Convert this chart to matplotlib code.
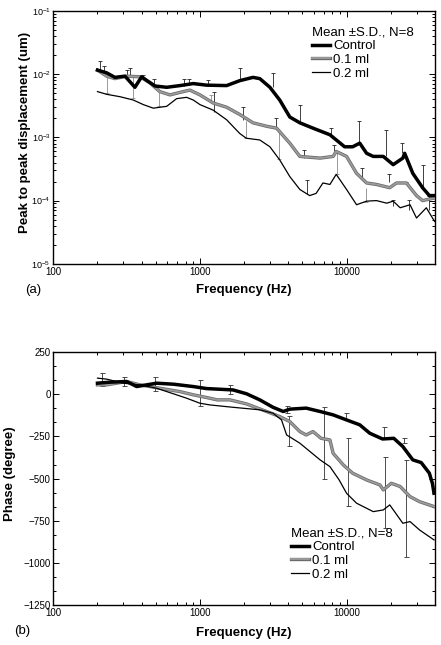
import matplotlib
matplotlib.use("Agg")
import matplotlib.pyplot as plt
import matplotlib.patheffects as pe
from matplotlib.ticker import LogLocator, AutoMinorLocator, MultipleLocator, NullFormatter
import numpy as np

plt.rcParams['font.family'] = ['Liberation Sans', 'DejaVu Sans']

# ---- (a) peak to peak displacement (um) ----
ctrl_f = [200, 231, 263, 308, 360, 400, 432, 494, 593, 731, 900, 1110, 1520, 1870, 2300, 2560,
          3000, 3500, 4100, 4800, 5900, 7700, 9700, 11000, 12300, 13700, 15200, 17800, 20800,
          24200, 24900, 28300, 33000, 36700, 39800]
ctrl_d = [0.0116, 0.0105, 0.0089, 0.0093, 0.0062, 0.0091, 0.0080, 0.0065, 0.0062, 0.0066, 0.0071,
          0.0067, 0.0066, 0.0079, 0.0089, 0.0085, 0.0062, 0.0039, 0.0021, 0.0017, 0.0014, 0.0011,
          0.00071, 0.00071, 0.00081, 0.00056, 0.00050, 0.00050, 0.00037, 0.00047, 0.00056,
          0.00027, 0.00016, 0.00012, 0.00012]

m01_f = [200, 231, 263, 316, 390, 455, 532, 625, 768, 854, 1000, 1230, 1520, 1870, 2300, 2850,
         3330, 4100, 4800, 6600, 8100, 8500, 10000, 11700, 13700, 16000, 19700, 21900, 25600,
         30000, 33000, 39800]
m01_d = [0.0116, 0.0093, 0.0085, 0.0093, 0.0091, 0.0073, 0.0053, 0.0047, 0.0053, 0.0056, 0.0047,
         0.0035, 0.0030, 0.0023, 0.0017, 0.0015, 0.0014, 0.00081, 0.00050, 0.00047, 0.00050,
         0.00060, 0.00050, 0.00027, 0.00019, 0.00018, 0.00016, 0.00019, 0.00019, 0.00012,
         0.00010, 0.00011]

m02_f = [200, 231, 285, 351, 411, 480, 593, 693, 810, 900, 1000, 1230, 1520, 1870, 2070, 2560,
         3000, 3500, 4100, 4800, 5600, 6200, 6900, 7700, 8500, 10000, 11700, 13700, 16000, 18800,
         20800, 23200, 27100, 30000, 35000, 39800]
m02_d = [0.0053, 0.0048, 0.0044, 0.0039, 0.0033, 0.0029, 0.0031, 0.0041, 0.0043, 0.0039, 0.0033,
         0.0027, 0.0019, 0.00115, 0.00097, 0.00091, 0.00071, 0.00044, 0.00024, 0.00015, 0.00012,
         0.00013, 0.00019, 0.00018, 0.00026, 0.00015, 0.000086, 0.000098, 0.00010, 0.000091,
         0.000098, 0.000077, 0.000086, 0.000053, 0.000077, 0.000047]

# error bars of (a): frequency, start (on curve), end (cap), colour
bar_a_f = [209, 220, 231, 318, 334, 349, 406, 483, 527, 774, 847, 1130, 1190, 1250, 1870, 1980,
           2070, 3130, 3320, 3480, 4790, 5120, 5400, 7780, 8200, 8650, 12200, 12800, 13500,
           18700, 19500, 20600, 24000, 25300, 26700, 33000, 36600]
bar_a_from = [0.0114, 0.0108, 0.0093, 0.0093, 0.0095, 0.0090, 0.0091, 0.0065, 0.0053, 0.0066,
              0.0069, 0.0067, 0.0035, 0.0025, 0.0079, 0.0019, 0.0018, 0.0062, 0.00146, 0.0012,
              0.0017, 0.00048, 0.000125, 0.0011, 0.00062, 0.00060, 0.00081, 0.00023, 0.00016,
              0.00050, 0.00020, 0.000081, 0.00056, 0.00018, 0.000072, 0.00016, 0.000072]
bar_a_to = [0.0161, 0.0134, 0.0051, 0.0117, 0.0124, 0.0042, 0.0097, 0.0085, 0.0031, 0.0085,
            0.0085, 0.0082, 0.0047, 0.0052, 0.0126, 0.0030, 0.00099, 0.0104, 0.00204, 0.00045,
            0.0033, 0.00064, 0.00021, 0.00139, 0.00075, 0.00026, 0.00179, 0.00033, 0.000095,
            0.00131, 0.00026, 0.000103, 0.00083, 0.00020, 0.000103, 0.00037, 0.000117]
bar_a_col = ['k', 'k', 'g', 'k', 'k', 'g', 'k', 'k', 'g', 'k', 'k', 'k', 'g', 'k', 'k', 'k',
             'g', 'k', 'k', 'g', 'k', 'k', 'k', 'k', 'k', 'g', 'k', 'k', 'g', 'k', 'k', 'k',
             'k', 'k', 'k', 'k', 'k']

# ---- (b) phase (degree) ----
ctrl_pf = [200, 243, 316, 370, 432, 506, 660, 900, 1110, 1680, 2080, 2560, 3150, 3700, 4100,
           5300, 6600, 8100, 10000, 12300, 14400, 17600, 21000, 24200, 28300, 32300, 36700,
           38500, 39500]
ctrl_p = [66, 72, 76, 46, 56, 66, 60, 46, 34, 26, 3, -33, -77, -102, -88, -82, -102, -122, -152,
          -181, -231, -265, -261, -310, -389, -405, -468, -528, -587]

m01_pf = [200, 231, 316, 390, 532, 731, 900, 1110, 1310, 1600, 2080, 2850, 3500, 4100, 4800,
          5300, 5900, 6700, 7700, 8100, 9500, 11000, 13700, 16900, 17800, 20200, 23200, 27100,
          31500, 39500]
m01_p = [56, 56, 76, 56, 36, 16, -3, -19, -33, -33, -57, -102, -132, -162, -221, -241, -221,
         -261, -271, -350, -419, -468, -508, -538, -567, -528, -547, -607, -637, -666]

m02_pf = [200, 231, 300, 390, 506, 660, 810, 1000, 1170, 1680, 2560, 3150, 3600, 3900, 4800,
          6600, 7700, 8900, 10000, 11700, 15200, 17800, 19700, 24200, 27100, 31500, 39500]
m02_p = [96, 90, 66, 56, 36, 3, -23, -53, -63, -77, -92, -112, -152, -241, -290, -389, -429,
         -508, -587, -646, -696, -686, -656, -765, -755, -805, -864]

# error bars of (b): frequency, lower end, upper end
bar_b_f = [214, 305, 495, 996, 1610, 3940, 4040, 7010, 9860, 10300, 18000, 18200, 24500, 25600]
bar_b_lo = [50, 48, 22, -70, 3, -110, -306, -504, -152, -662, -262, -795, -286, -963]
bar_b_hi = [125, 105, 105, 82, 58, -69, -128, -73, -112, -260, -191, -370, -257, -389]

fig = plt.figure(figsize=(4.41, 6.45), dpi=100)
ax1 = fig.add_axes([0.121, 0.591, 0.865, 0.392])
ax2 = fig.add_axes([0.121, 0.062, 0.865, 0.392])

gray_fx = [pe.Stroke(linewidth=2.4, foreground='#6a6a6a'), pe.Normal()]


def draw_curves(ax, xc, yc, x1, y1, x2, y2):
    ax.plot(xc, yc, color='black', lw=2.5, label='Control', zorder=4)
    ax.plot(x1, y1, color='#9c9c9c', lw=1.3, label='0.1 ml', path_effects=gray_fx, zorder=3)
    ax.plot(x2, y2, color='black', lw=0.9, label='0.2 ml', zorder=3)


draw_curves(ax1, ctrl_f, ctrl_d, m01_f, m01_d, m02_f, m02_d)
for f, a, b, c in zip(bar_a_f, bar_a_from, bar_a_to, bar_a_col):
    col = '#202020' if c == 'k' else '#8a8a8a'
    ax1.vlines(f, a, b, color=col, lw=0.6, zorder=2)
    ax1.plot([f], [b], marker='_', ms=3.5, mew=0.6, color=col, zorder=2)

draw_curves(ax2, ctrl_pf, ctrl_p, m01_pf, m01_p, m02_pf, m02_p)
ax2.errorbar(bar_b_f, [(a + b) / 2 for a, b in zip(bar_b_lo, bar_b_hi)],
             yerr=[[(b - a) / 2 for a, b in zip(bar_b_lo, bar_b_hi)]] * 2,
             fmt='none', ecolor='#303030', elinewidth=0.6, capsize=1.8, capthick=0.6, zorder=2)

for ax in (ax1, ax2):
    ax.set_xscale('log')
    ax.set_xlim(100, 40000)
    ax.xaxis.set_major_locator(LogLocator(base=10))
    ax.xaxis.set_minor_locator(LogLocator(base=10, subs=np.arange(2, 10)))
    ax.xaxis.set_minor_formatter(NullFormatter())
    ax.set_xticks([100, 1000, 10000])
    ax.set_xticklabels(['100', '1000', '10000'])
    ax.tick_params(which='both', direction='in', top=True, right=True, labelsize=7, pad=2,
                   width=0.7)
    ax.tick_params(which='major', length=4)
    ax.tick_params(which='minor', length=2)
    for s in ax.spines.values():
        s.set_linewidth(1.0)
    ax.set_xlabel('Frequency (Hz)', fontsize=9.5, fontweight='bold')

ax1.set_yscale('log')
ax1.set_ylim(1e-5, 1e-1)
ax1.yaxis.set_major_locator(LogLocator(base=10, numticks=10))
ax1.yaxis.set_minor_locator(LogLocator(base=10, subs=np.arange(2, 10), numticks=10))
ax1.yaxis.set_minor_formatter(NullFormatter())
ax1.tick_params(axis='y', labelsize=6.5)
ax1.set_ylabel('Peak to peak displacement (um)', fontsize=9.5, fontweight='bold')
ax1.yaxis.set_label_coords(-0.058, 0.52)
ax1.xaxis.set_label_coords(0.5, -0.079)

ax2.set_ylim(-1250, 250)
ax2.yaxis.set_major_locator(MultipleLocator(250))
ax2.yaxis.set_minor_locator(AutoMinorLocator(3))
ax2.set_ylabel('Phase (degree)', fontsize=9.5, fontweight='bold')
ax2.yaxis.set_label_coords(-0.097, 0.52)
ax2.xaxis.set_label_coords(0.5, -0.086)

leg_kw = dict(title='Mean \u00b1S.D., N=8', fontsize=9.5, title_fontsize=9.5, frameon=False,
              loc='upper left', borderpad=0, borderaxespad=0, handlelength=1.4,
              handletextpad=0.2, labelspacing=0.1, alignment='left')
ax1.legend(bbox_to_anchor=(0.678, 0.937), **leg_kw)
ax2.legend(bbox_to_anchor=(0.623, 0.305), **leg_kw)

fig.text(0.057, 0.550, '(a)', fontsize=9.5, va='center', ha='left')
fig.text(0.032, 0.0217, '(b)', fontsize=9.5, va='center', ha='left')

fig.savefig('out.png', dpi=100)
